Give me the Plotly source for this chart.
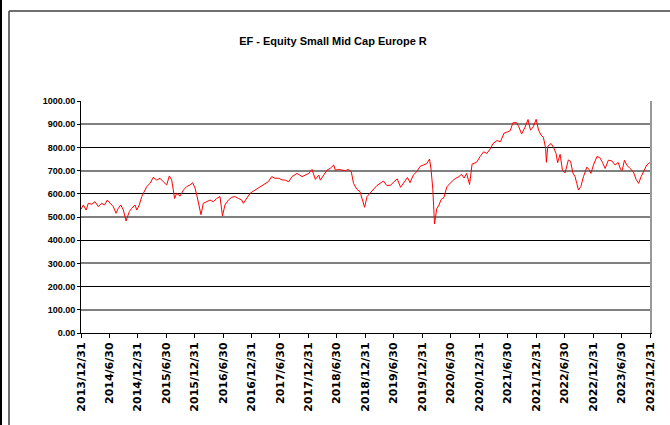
import plotly.graph_objects as go

dates = [
"2013-12-31","2014-01-15","2014-02-02","2014-02-16","2014-03-10","2014-03-31","2014-04-21","2014-05-13","2014-05-31","2014-06-18",
"2014-07-05","2014-07-26","2014-08-13","2014-08-27","2014-09-12","2014-09-29","2014-10-16","2014-11-06","2014-11-21","2014-12-13",
"2014-12-24","2015-01-09","2015-01-25","2015-02-08","2015-02-26","2015-03-19","2015-04-09","2015-05-01","2015-05-22","2015-06-12",
"2015-07-04","2015-07-21","2015-08-05","2015-08-24","2015-09-06","2015-09-28","2015-10-19","2015-11-09","2015-12-01","2015-12-18",
"2016-01-02","2016-01-13","2016-01-23","2016-02-09","2016-02-24","2016-03-17","2016-04-07","2016-04-28","2016-05-20","2016-06-10",
"2016-06-26","2016-07-12","2016-08-03","2016-08-24","2016-09-15","2016-10-06","2016-10-28","2016-11-07","2016-11-29","2016-12-20",
"2017-01-21","2017-02-22","2017-03-26","2017-04-16","2017-05-08","2017-05-29","2017-06-22","2017-07-13","2017-08-03","2017-08-25",
"2017-09-15","2017-10-18","2017-11-19","2017-12-10","2018-01-01","2018-01-22","2018-02-12","2018-03-06","2018-03-16","2018-04-07",
"2018-04-28","2018-05-19","2018-06-10","2018-06-20","2018-07-12","2018-08-02","2018-08-24","2018-09-12","2018-10-01","2018-10-15",
"2018-11-05","2018-11-26","2018-12-09","2018-12-25","2019-01-10","2019-01-29","2019-02-19","2019-03-13","2019-04-03","2019-04-25",
"2019-05-18","2019-06-11","2019-07-02","2019-07-23","2019-08-13","2019-09-04","2019-09-26","2019-10-13","2019-11-03","2019-11-25",
"2019-12-16","2020-01-06","2020-01-28","2020-02-15","2020-02-25","2020-03-07","2020-03-18","2020-04-01","2020-04-16","2020-04-29",
"2020-05-18","2020-06-05","2020-06-23","2020-07-10","2020-08-01","2020-08-22","2020-09-07","2020-09-24","2020-10-10","2020-10-29",
"2020-11-14","2020-12-13","2021-01-04","2021-01-27","2021-02-17","2021-03-10","2021-03-29","2021-04-24","2021-05-15","2021-06-07",
"2021-06-29","2021-07-17","2021-08-03","2021-08-26","2021-09-10","2021-09-28","2021-10-18","2021-11-08","2021-11-24","2021-12-12",
"2021-12-30","2022-01-15","2022-01-31","2022-02-15","2022-03-01","2022-03-06","2022-03-15","2022-04-05","2022-04-21","2022-05-07",
"2022-05-17","2022-06-02","2022-06-17","2022-07-04","2022-07-25","2022-08-08","2022-08-23","2022-09-06","2022-09-17","2022-09-28",
"2022-10-13","2022-10-30","2022-11-21","2022-12-04","2022-12-17","2023-01-02","2023-01-24","2023-02-11","2023-03-01","2023-03-18",
"2023-04-08","2023-04-30","2023-05-21","2023-06-10","2023-06-25","2023-07-05","2023-07-20","2023-08-04","2023-08-25","2023-09-15",
"2023-10-03","2023-10-19","2023-11-04","2023-11-23","2023-12-10","2023-12-29",
]

values = [
533,552,530,559,555,566,545,559,552,573,
560,545,516,537,552,530,483,523,537,552,
530,552,588,609,631,645,671,659,667,652,
638,677,660,580,602,590,616,631,638,648,
624,595,560,510,559,566,573,566,580,588,
505,552,573,585,588,580,573,559,580,602,
616,631,645,652,674,667,667,660,659,652,
674,688,674,681,688,705,662,681,659,681,
702,710,724,702,705,702,700,705,695,645,
620,609,573,542,588,602,616,635,645,655,
635,638,652,664,628,652,670,648,681,695,
718,724,730,750,705,620,470,535,552,575,
585,630,645,655,667,674,684,668,688,640,
728,736,760,781,774,793,817,830,824,861,
867,872,906,907,889,858,884,920,874,889,
921,874,853,843,796,736,805,817,800,774,
734,770,702,690,746,740,690,674,645,616,
631,674,715,705,688,724,760,757,735,709,
745,742,724,735,705,700,745,724,709,695,
662,645,674,702,724,734,
]

tick_dates = ["2013-12-31","2014-06-30","2014-12-31","2015-06-30","2015-12-31","2016-06-30",
              "2016-12-31","2017-06-30","2017-12-31","2018-06-30","2018-12-31","2019-06-30",
              "2019-12-31","2020-06-30","2020-12-31","2021-06-30","2021-12-31","2022-06-30",
              "2022-12-31","2023-06-30","2023-12-31"]
tick_text = [d.replace("-0", "-").replace("-", "/") for d in tick_dates]

y_ticks = list(range(0, 1001, 100))
y_text = [f"{v:.2f}" for v in y_ticks]
y_black = list(range(0, 1001, 200))
y_gray = list(range(100, 1000, 200))

fig = go.Figure()
fig.add_trace(go.Scatter(x=dates, y=values, mode="lines",
                         line=dict(color="#ff0000", width=1), showlegend=False,
                         hoverinfo="x+y"))
# empty helper traces so the overlay grid axes get drawn
fig.add_trace(go.Scatter(x=[None], y=[None], yaxis="y2", showlegend=False, hoverinfo="skip"))
fig.add_trace(go.Scatter(x=[None], y=[None], yaxis="y3", showlegend=False, hoverinfo="skip"))

W, H = 670, 425
L, R, T, B = 81, 20, 101, 92
pw, ph = W - L - R, H - T - B

def px(xp):
    return (xp - L) / pw

def py(yp):
    return (H - B - yp) / ph

fig.update_layout(
    width=W, height=H,
    margin=dict(l=L, r=R, t=T, b=B),
    paper_bgcolor="white", plot_bgcolor="white",
    title=dict(text="<b>EF - Equity Small Mid Cap Europe R</b>", x=px(333), xref="paper",
               xanchor="center", y=1 - 41 / H, yref="container", yanchor="middle",
               font=dict(family="Liberation Sans, Arial, sans-serif", size=11, color="black")),
    xaxis=dict(range=["2013-12-31", "2023-12-31"], tickvals=tick_dates, ticktext=tick_text,
               tickangle=-90, ticks="outside", ticklen=4, tickcolor="black",
               showgrid=False, showline=True, linecolor="black", linewidth=1,
               tickfont=dict(family="DejaVu Sans, sans-serif", size=11, color="black", weight="bold"),
               zeroline=False),
    yaxis=dict(range=[0, 1000], tickvals=y_ticks, ticktext=y_text, ticks="outside", ticklen=3,
               tickcolor="black", showgrid=False, showline=True, linecolor="black", linewidth=1,
               tickfont=dict(family="Liberation Sans, Arial, sans-serif", size=9, color="black",
                             weight="bold"),
               zeroline=False, layer="above traces"),
    yaxis2=dict(range=[0, 1000], overlaying="y", anchor="x", side="right", tickvals=y_black,
                showticklabels=False, ticks="", showgrid=True, gridcolor="black", gridwidth=1,
                showline=True, linecolor="#999999", linewidth=2, zeroline=False),
    yaxis3=dict(range=[0, 1000], overlaying="y", anchor="x", side="right", tickvals=y_gray,
                showticklabels=False, ticks="", showgrid=True, gridcolor="#808080", gridwidth=2,
                showline=False, zeroline=False),
    shapes=[
        dict(type="line", xref="paper", yref="paper", x0=px(1), x1=px(1), y0=py(0), y1=py(H),
             line=dict(color="black", width=2)),
        dict(type="line", xref="paper", yref="paper", x0=px(9), x1=px(W + 2), y0=py(11), y1=py(11),
             line=dict(color="#404040", width=1.5)),
        dict(type="line", xref="paper", yref="paper", x0=px(9), x1=px(9), y0=py(11), y1=py(H + 2),
             line=dict(color="#404040", width=1.5)),
    ],
)

fig.write_html("out.html", config={"displayModeBar": False},
               post_script="document.body.style.margin='0px';document.body.style.overflow='hidden';")
